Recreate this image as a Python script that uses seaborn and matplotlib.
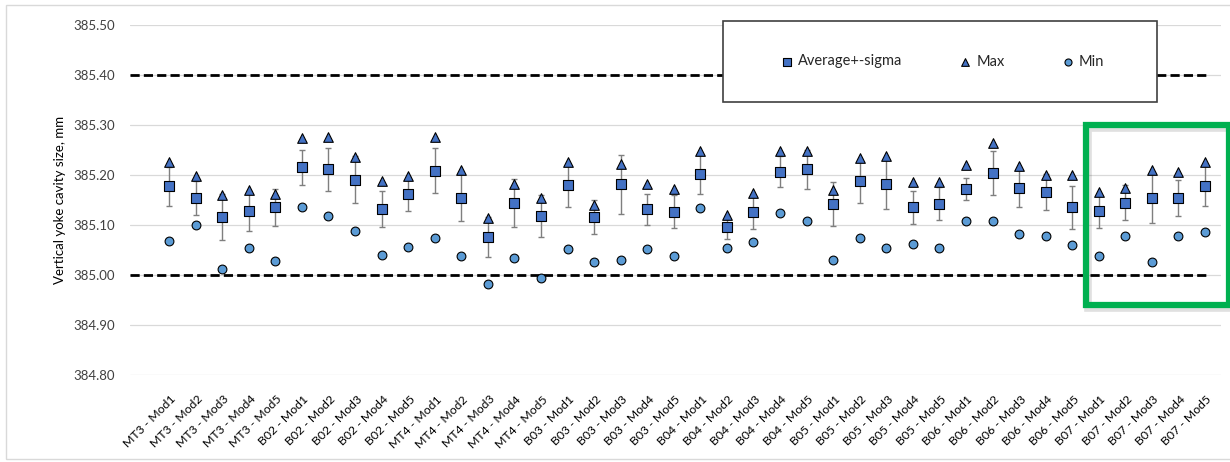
import matplotlib
matplotlib.use("Agg")
import matplotlib.pyplot as plt
import matplotlib.transforms as mtransforms
from matplotlib.patches import Rectangle
import numpy as np
import seaborn as sns

# Module labels (group - module)
categories = [
    "MT3 - Mod1", "MT3 - Mod2", "MT3 - Mod3", "MT3 - Mod4", "MT3 - Mod5",
    "B02 - Mod1", "B02 - Mod2", "B02 - Mod3", "B02 - Mod4", "B02 - Mod5",
    "MT4 - Mod1", "MT4 - Mod2", "MT4 - Mod3", "MT4 - Mod4", "MT4 - Mod5",
    "B03 - Mod1", "B03 - Mod2", "B03 - Mod3", "B03 - Mod4", "B03 - Mod5",
    "B04 - Mod1", "B04 - Mod2", "B04 - Mod3", "B04 - Mod4", "B04 - Mod5",
    "B05 - Mod1", "B05 - Mod2", "B05 - Mod3", "B05 - Mod4", "B05 - Mod5",
    "B06 - Mod1", "B06 - Mod2", "B06 - Mod3", "B06 - Mod4", "B06 - Mod5",
    "B07 - Mod1", "B07 - Mod2", "B07 - Mod3", "B07 - Mod4", "B07 - Mod5",
]

# Average cavity size per module, mm
avg = [385.178, 385.155, 385.117, 385.129, 385.136, 385.216, 385.212, 385.191, 385.132, 385.163,
       385.209, 385.155, 385.077, 385.145, 385.119, 385.180, 385.117, 385.182, 385.132, 385.127,
       385.202, 385.096, 385.126, 385.207, 385.212, 385.143, 385.189, 385.182, 385.136, 385.143,
       385.172, 385.204, 385.174, 385.167, 385.136, 385.129, 385.145, 385.155, 385.155, 385.178]

# Standard deviation per module, mm
sigma = [0.039, 0.034, 0.046, 0.040, 0.037, 0.035, 0.043, 0.047, 0.036, 0.034,
         0.045, 0.047, 0.040, 0.048, 0.042, 0.043, 0.034, 0.059, 0.031, 0.033,
         0.039, 0.023, 0.033, 0.031, 0.039, 0.044, 0.044, 0.049, 0.033, 0.033,
         0.022, 0.044, 0.037, 0.036, 0.043, 0.034, 0.035, 0.051, 0.036, 0.040]

# Maximum measured size, mm
vmax = [385.227, 385.198, 385.160, 385.170, 385.163, 385.275, 385.277, 385.236, 385.189, 385.198,
        385.277, 385.211, 385.114, 385.182, 385.154, 385.227, 385.141, 385.222, 385.182, 385.173,
        385.249, 385.121, 385.164, 385.249, 385.249, 385.171, 385.235, 385.239, 385.186, 385.186,
        385.220, 385.265, 385.219, 385.201, 385.201, 385.167, 385.175, 385.211, 385.207, 385.226]

# Minimum measured size, mm
vmin = [385.069, 385.100, 385.012, 385.054, 385.029, 385.136, 385.119, 385.089, 385.041, 385.056,
        385.075, 385.039, 384.982, 385.035, 384.995, 385.052, 385.027, 385.031, 385.052, 385.039,
        385.134, 385.054, 385.067, 385.125, 385.109, 385.031, 385.075, 385.054, 385.062, 385.054,
        385.109, 385.109, 385.083, 385.079, 385.060, 385.039, 385.079, 385.027, 385.079, 385.087]

# Tolerance limits, mm
limits = [385.00, 385.40]

y_ticks = [384.80, 384.90, 385.00, 385.10, 385.20, 385.30, 385.40, 385.50]

sns.set_theme(style="white")
plt.rcParams["font.family"] = ["Lato", "DejaVu Sans"]

W, H = 1230, 462
fig = plt.figure(figsize=(W / 100, H / 100), dpi=100)
ax = fig.add_axes([130 / W, 1 - 375.3 / H, 1091 / W, 350.3 / H])

x = np.arange(len(categories))
n = len(categories)

ax.set_xlim(-1.47, n - 1 + 0.6)
ax.set_ylim(y_ticks[0], y_ticks[-1])
ax.set_yticks(y_ticks)
ax.set_yticklabels([f"{v:.2f}" for v in y_ticks], fontsize=9.5, color="#404040")
ax.grid(axis="y", color="#D9D9D9", linewidth=0.9, zorder=0)
ax.grid(axis="x", visible=False)
for s in ax.spines.values():
    s.set_visible(False)
ax.tick_params(axis="y", length=0, pad=11)
ax.tick_params(axis="x", length=0, pad=16)

# Tolerance limits
ax.hlines(limits, -1.47, n - 1 + 0.06, colors="black", linestyles=(0, (3.3, 1.5)),
          linewidth=2.0, zorder=1)

# Average +- sigma
ax.errorbar(x, avg, yerr=sigma, fmt="none", ecolor="#7F7F7F", elinewidth=1.0,
            capsize=2.4, capthick=1.0, zorder=2)
sns.scatterplot(x=x, y=avg, marker="s", s=50, color="#4472C4", edgecolor="black",
                linewidth=0.8, ax=ax, zorder=3, label="Average+-sigma")
sns.scatterplot(x=x, y=vmax, marker="^", s=48, color="#4472C4", edgecolor="black",
                linewidth=0.8, ax=ax, zorder=3, label="Max")
sns.scatterplot(x=x, y=vmin, marker="o", s=40, color="#5B9BD5", edgecolor="black",
                linewidth=0.8, ax=ax, zorder=3, label="Min")

ax.set_xticks(x)
ax.set_xticklabels(categories, rotation=45, ha="right", va="center",
                   rotation_mode="anchor", fontsize=8.8, color="black")
shift = mtransforms.ScaledTranslation(5 / 100, 0, fig.dpi_scale_trans)
for lbl in ax.get_xticklabels():
    lbl.set_transform(lbl.get_transform() + shift)

ax.set_ylabel("Vertical yoke cavity size, mm", fontsize=9.5, color="black")
ax.yaxis.set_label_coords(-64 / 1091, 0.5)

# Legend box
box = Rectangle((723 / W, 1 - 102 / H), 434 / W, 81 / H, transform=fig.transFigure,
                facecolor="white", edgecolor="#404040", linewidth=1.2, zorder=5)
fig.patches.append(box)
handles, labels = ax.get_legend_handles_labels()
leg = ax.legend(handles, labels, ncol=3, loc="center", frameon=False,
                bbox_to_anchor=((726 + 434 / 2) / W, 1 - 61.5 / H),
                bbox_transform=fig.transFigure, fontsize=10.5, markerscale=0.8,
                handlelength=0.7, handletextpad=0.4, columnspacing=4.0, scatterpoints=1)
leg.set_zorder(6)
leg.remove()
fig.legends.append(leg)
leg.set_figure(fig)

# Highlight frame around the B07 modules
shadow = Rectangle((1088 / W, 1 - 308 / H), (1229 - 1086) / W, (305 - 125) / H,
                   transform=fig.transFigure, facecolor="none", edgecolor="#000000",
                   alpha=0.12, linewidth=5.5, zorder=7)
frame = Rectangle((1086 / W, 1 - 305 / H), (1229 - 1086) / W, (305 - 125) / H,
                  transform=fig.transFigure, facecolor="none", edgecolor="#00B050",
                  linewidth=4.5, zorder=8)
fig.patches.extend([shadow, frame])

# Chart area border
border = Rectangle((6 / W, 1 - 459 / H), 1240 / W, 454 / H, transform=fig.transFigure,
                   facecolor="none", edgecolor="#D9D9D9", linewidth=1.0, zorder=0)
fig.patches.append(border)

fig.savefig("out.png", dpi=100)
